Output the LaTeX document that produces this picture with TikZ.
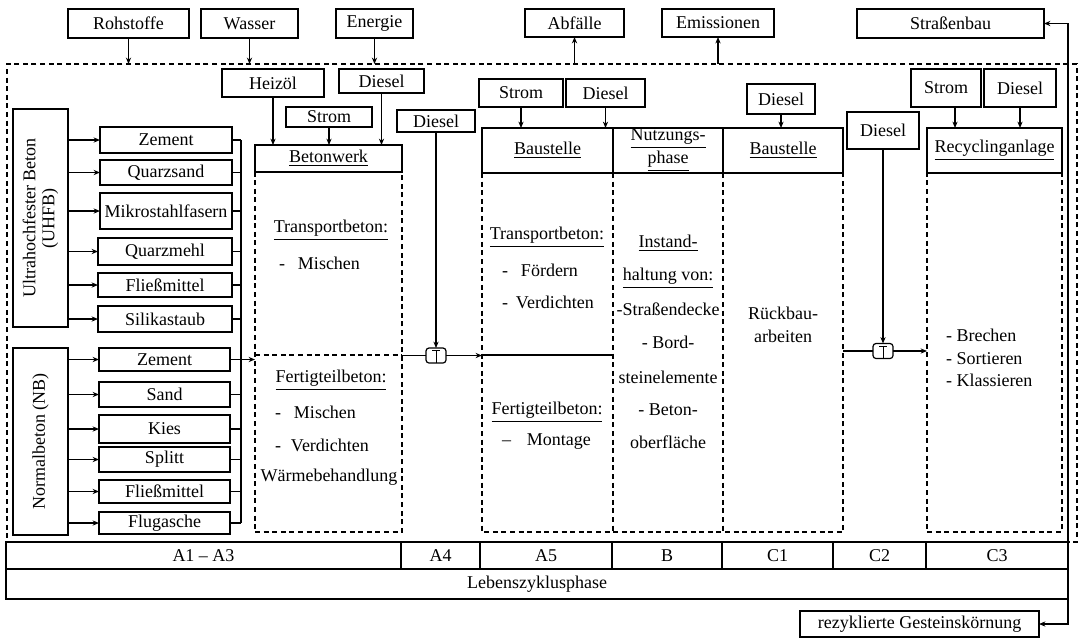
\documentclass[tikz,border=0pt]{standalone}
\usepackage{fontspec}
\setmainfont{Liberation Serif}
\usetikzlibrary{arrows.meta,calc}
\newcommand\fsz{\fontsize{9}{10.5}\selectfont}
\newcommand\bx[7][]{\node[box,#1,minimum width={(#5-#3)*0.5pt},minimum height={(#6-#4)*0.5pt}] (#2) at ({(#3+#5)/2},{(#4+#6)/2}) {#7};}
\begin{document}
\begin{tikzpicture}[x=0.5pt,y=-0.5pt,
  every node/.style={font=\fsz},
  box/.style={draw,line width=0.7pt,inner sep=0pt,outer sep=0pt,align=center},
  dbox/.style={draw,dash pattern=on 2.5pt off 1.8pt,line width=0.6pt},
  dln/.style={dash pattern=on 2.5pt off 1.8pt,line width=0.6pt},
  arr/.style={line width=0.6pt,-{Stealth[length=3.2pt,width=2.6pt]}},
  darr/.style={line width=0.6pt,{Stealth[length=3.2pt,width=2.6pt]}-{Stealth[length=3.2pt,width=2.6pt]}},
  ln/.style={line width=0.6pt},
  txt/.style={inner sep=0pt,outer sep=0pt,align=center},
  tico/.style={draw,line width=0.6pt,rounded corners=1.5pt,minimum width=10pt,minimum height=7.5pt,inner sep=0pt,outer sep=0pt}]
\useasboundingbox (0,0) rectangle (1080,639);
\fill[white] (0,0) rectangle (1080,639);

% top boxes
\bx{roh}{68}{9}{189}{38}{Rohstoffe}
\bx{was}{201}{9}{298}{38}{Wasser}
\bx{ene}{336}{9}{413}{38}{Energie}
\bx{abf}{525}{9}{624}{37}{Abfälle}
\bx{emi}{662}{9}{774}{37}{Emissionen}
\bx{sb}{857}{9}{1044}{38}{Straßenbau}

% system boundary
\bx[dbox]{sys}{7}{64}{1077}{542}{}

% A1-A3 inputs
\bx{hei}{222}{69}{324}{97}{Heizöl}
\bx{dia}{339}{69}{424}{93}{Diesel}
\bx{sta}{286}{107}{372}{127}{Strom}
\bx{bw}{255}{145}{402}{172}{\underline{Betonwerk}}
\bx[dbox]{bwd}{255}{172}{402}{532}{}

% A4
\bx{dib}{397}{110}{475}{132}{Diesel}

% A5, B, C1
\bx{stb}{479}{79}{563}{107}{Strom}
\bx{dic}{566}{79}{645}{107}{Diesel}
\bx{bsa}{482}{128}{613}{173}{\underline{Baustelle}}
\bx{nu}{613}{128}{723}{173}{\underline{Nutzungs-}\\[1pt]\underline{phase}}
\bx{bsb}{723}{128}{843}{173}{\underline{Baustelle}}
\bx{did}{747}{84}{815}{114}{Diesel}
\bx[draw=none]{a5d}{482}{173}{613}{532}{}
\bx[draw=none]{nud}{613}{173}{723}{532}{}
\bx[draw=none]{c1d}{723}{173}{843}{532}{}
\draw[dln] (a5d.north west) rectangle (c1d.south east);
\draw[dln] (nud.north west) -- (nud.south west);
\draw[dln] (nud.north east) -- (nud.south east);

% C2, C3
\bx{die}{847}{112}{919}{149}{Diesel}
\bx{stc}{911}{69}{981}{107}{Strom}
\bx{dif}{984}{69}{1056}{107}{Diesel}
\bx{rec}{927}{128}{1062}{173}{\underline{Recyclinganlage}}
\bx[dbox]{c3d}{927}{173}{1062}{532}{}

% left column
\bx{uhfb}{13}{109}{68}{327}{}
\node[txt,rotate=90,font=\fontsize{9}{9.5}\selectfont] (uhfbt) at (uhfb.center) {Ultrahochfester Beton\\(UHFB)};
\bx{za}{100}{127}{232}{153}{Zement}
\bx{zb}{100}{160}{232}{185}{Quarzsand}
\bx{zc}{100}{193}{232}{229}{Mikrostahlfasern}
\bx{zd}{98}{238}{232}{265}{Quarzmehl}
\bx{ze}{98}{273}{232}{297}{Fließmittel}
\bx{zf}{98}{306}{232}{332}{Silikastaub}
\bx{nb}{13}{348}{68}{535}{}
\node[txt,rotate=90] (nbt) at (nb.center) {Normalbeton (NB)};
\bx{na}{99}{348}{230}{371}{Zement}
\bx{nbb}{99}{382}{230}{407}{Sand}
\bx{nc}{99}{415}{230}{443}{Kies}
\bx{nd}{99}{447}{230}{472}{Splitt}
\bx{ne}{99}{480}{230}{503}{Fließmittel}
\bx{nf}{99}{512}{230}{534}{Flugasche}

\coordinate (bus) at (241,0);
\foreach \n in {za,zb,zc,zd,ze,zf}{\draw[arr] (uhfb.east |- \n) -- (\n.west);}
\foreach \n in {na,nbb,nc,nd,ne,nf}{\draw[arr] (nb.east |- \n) -- (\n.west);}
\foreach \n in {za,zb,zc,zd,ze,zf,na,nbb,nc,nd,ne,nf}{\draw[ln] (\n.east) -- (\n.east -| bus);}
\draw[ln] (bus |- za) -- (bus |- nf);
\draw[arr] (bus |- na) -- (bwd.west |- na);

% top connectors
\draw[arr] (roh.south) -- (roh.south |- sys.north);
\draw[arr] (was.south) -- (was.south |- sys.north);
\draw[arr] (ene.south) -- (ene.south |- sys.north);
\draw[arr] (abf.south |- sys.north) -- (abf.south);
\draw[arr] (emi.south |- sys.north) -- (emi.south);
\draw[arr] (hei.south) -- (hei.south |- bw.north);
\draw[arr] (dia.south) -- (dia.south |- bw.north);
\draw[arr] (sta.south) -- (sta.south |- bw.north);
\draw[arr] (stb.south) -- (stb.south |- bsa.north);
\draw[arr] (dic.south) -- (dic.south |- bsa.north);
\draw[arr] (did.south) -- (did.south |- bsb.north);
\draw[arr] ([xshift=4.5pt]stc.south) -- ([xshift=4.5pt]stc.south |- rec.north);
\draw[arr] (dif.south) -- (dif.south |- rec.north);

% transport A4
\coordinate (mid) at (0,355);
\node[tico] (ta) at (436,355.5) {};
\draw[line width=0.4pt] ([yshift=-1.2pt]ta.north) -- (ta.south);
\draw[line width=0.4pt] ([xshift=-2pt,yshift=-1.2pt]ta.north) -- ([xshift=2pt,yshift=-1.2pt]ta.north);
\draw[dln] (bwd.west |- mid) -- (bwd.east |- mid);
\draw[ln] (bwd.east |- ta) -- (ta.west);
\draw[arr] (ta.east) -- (a5d.west |- ta);
\draw[arr] (dib.south) -- (ta.north);
\draw[ln] (a5d.west |- mid) -- (a5d.east |- mid);

% transport C2
\node[tico] (tb) at (883,351) {};
\draw[line width=0.4pt] ([yshift=-1.2pt]tb.north) -- (tb.south);
\draw[line width=0.4pt] ([xshift=-2pt,yshift=-1.2pt]tb.north) -- ([xshift=2pt,yshift=-1.2pt]tb.north);
\draw[ln] (c1d.east |- tb) -- (tb.west);
\draw[arr] (tb.east) -- (c3d.west |- tb);
\draw[arr] (die.south) -- (tb.north);

% texts Betonwerk
\node[txt] (t1) at (331,230) {\underline{Transportbeton:}};
\node[txt,anchor=west] (t2) at (279,263) {-\hspace{6.5pt}Mischen};
\node[txt] (t3) at (331,380) {\underline{Fertigteilbeton:}};
\node[txt,anchor=west] (t4) at (275,412) {-\hspace{6.5pt}Mischen};
\node[txt,anchor=west] (t5) at (275,445) {-\hspace{5pt}Verdichten};
\node[txt] (t6) at (329,477) {Wärmebehandlung};

% texts A5
\node[txt] (u1) at (547,237) {\underline{Transportbeton:}};
\node[txt,anchor=west] (u2) at (502,270) {-\hspace{6.5pt}Fördern};
\node[txt,anchor=west] (u3) at (502,302) {-\hspace{4pt}Verdichten};
\node[txt] (u4) at (547,412) {\underline{Fertigteilbeton:}};
\node[txt,anchor=west] (u5) at (502,442) {--\hspace{8pt}Montage};

% texts B
\node[txt] (v1) at (668,243) {\underline{Instand-}};
\node[txt] (v2) at (668,278) {\underline{haltung von:}};
\node[txt] (v3) at (668,309) {-Straßendecke};
\node[txt] (v4) at (668,342) {- Bord-};
\node[txt] (v5) at (668,377) {steinelemente};
\node[txt] (v6) at (668,410) {- Beton-};
\node[txt] (v7) at (668,442) {oberfläche};

% texts C1, C3
\node[txt,font=\fontsize{9}{11.5}\selectfont] (w1) at (783,324.5) {Rückbau-\\arbeiten};
\node[txt,anchor=west,align=left,font=\fontsize{9}{11.25}\selectfont] (w2) at (946,358) {- Brechen\\- Sortieren\\- Klassieren};

% table
\bx{ca}{6}{542}{401}{569}{A1 – A3}
\bx{cb}{401}{542}{480}{569}{A4}
\bx{cc}{480}{542}{612}{569}{A5}
\bx{cd}{612}{542}{722}{569}{B}
\bx{ce}{722}{542}{833}{569}{C1}
\bx{cf}{833}{542}{926}{569}{C2}
\bx{cg}{926}{542}{1068}{569}{C3}
\bx{lz}{6}{569}{1068}{599}{Lebenszyklusphase}

\bx{rez}{800}{611}{1039}{637}{rezyklierte Gesteinskörnung}
\coordinate (rr) at (1068,0);
\draw[darr] (sb.east) -- (sb.east -| rr) -- (rez.east -| rr) -- (rez.east);
\end{tikzpicture}
\end{document}
